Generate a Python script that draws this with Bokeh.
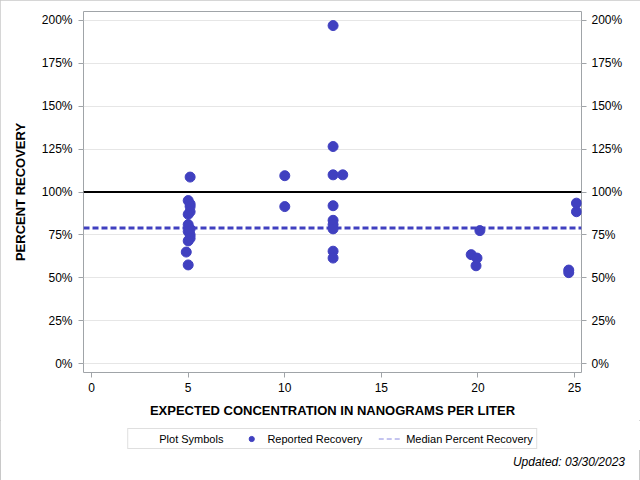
import math
from bokeh.plotting import figure
from bokeh.layouts import column
from bokeh.models import (LinearAxis, FixedTicker, PrintfTickFormatter, Span,
                          Legend, LegendItem, Div, Range1d)
from bokeh.embed import file_html
from bokeh.resources import INLINE

# ---- data ----
expected_conc = [5.1, 5.0, 5.1, 5.1, 5.1, 5.0, 5.0, 5.1, 5.0, 5.1, 5.1, 5.0, 4.9, 5.0,
                 10.0, 10.0,
                 12.5, 12.5, 12.5, 13.0, 12.5, 12.5, 12.5, 12.5, 12.5, 12.5,
                 19.65, 19.95, 19.9, 20.1,
                 25.1, 25.1, 24.7, 24.7]
percent_recovery = [108.7, 95.0, 93.0, 91.5, 88.5, 87.0, 81.0, 78.5, 77.0, 75.0, 73.0, 71.5, 65.0, 57.5,
                    109.5, 91.5,
                    197.0, 126.5, 110.0, 110.0, 92.0, 83.5, 81.0, 78.5, 65.5, 61.5,
                    63.5, 61.5, 57.0, 77.5,
                    93.5, 88.5, 54.5, 53.0]
median_recovery = 79.0
reference_recovery = 100.0
x_tick_values = [0, 5, 10, 15, 20, 25]
y_tick_values = [0, 25, 50, 75, 100, 125, 150, 175, 200]
legend_labels = ["Plot Symbols", "Reported Recovery", "Median Percent Recovery"]
footer_text = "Updated: 03/30/2023"

FONT = "Liberation Sans"
PT_COLOR = "#4040C0"
GRAY = "#a0a4a8"

# ---------------- main plot ----------------
p = figure(width=640, height=420, output_backend="svg", toolbar_location=None,
           x_range=Range1d(-0.42, 25.36), y_range=Range1d(-5.2, 205.2),
           min_border_left=83, min_border_right=59, min_border_top=11,
           min_border_bottom=48)
p.background_fill_color = "white"
p.border_fill_color = "white"
p.outline_line_color = GRAY
p.outline_line_width = 1

p.xaxis.ticker = FixedTicker(ticks=x_tick_values)
p.yaxis.ticker = FixedTicker(ticks=y_tick_values)
p.yaxis.formatter = PrintfTickFormatter(format="%d%%")
p.xaxis.axis_label = "EXPECTED CONCENTRATION IN NANOGRAMS PER LITER"
p.yaxis.axis_label = "PERCENT RECOVERY"

right_axis = LinearAxis(ticker=FixedTicker(ticks=y_tick_values),
                        formatter=PrintfTickFormatter(format="%d%%"))
p.add_layout(right_axis, "right")

for ax in p.axis:
    ax.axis_line_color = None
    ax.major_tick_line_color = GRAY
    ax.major_tick_out = 5
    ax.major_tick_in = 0
    ax.minor_tick_line_color = None
    ax.major_label_text_font = FONT
    ax.major_label_text_font_size = "12px"
    ax.major_label_text_color = "#000000"
    ax.axis_label_text_font = FONT
    ax.axis_label_text_font_size = "13px"
    ax.axis_label_text_font_style = "bold"
    ax.axis_label_text_color = "#000000"
    ax.major_label_standoff = 5
p.yaxis[0].major_label_standoff = 6
p.yaxis[0].axis_label_standoff = 11
p.xaxis[0].axis_label_standoff = 8

p.xgrid.grid_line_color = None
p.ygrid.ticker = FixedTicker(ticks=y_tick_values)
p.ygrid.grid_line_color = "#e6e6e6"

p.add_layout(Span(location=reference_recovery, dimension="width",
                  line_color="black", line_width=2))
p.add_layout(Span(location=median_recovery, dimension="width",
                  line_color=PT_COLOR, line_width=3, line_dash="6 3"))

p.scatter(expected_conc, percent_recovery, size=10, marker="circle",
          fill_color=PT_COLOR, line_color=PT_COLOR)

# ---------------- legend strip ----------------
q = figure(width=640, height=30, output_backend="svg", toolbar_location=None,
           x_range=Range1d(0, 1), y_range=Range1d(0, 1),
           min_border_left=28, min_border_right=0, min_border_top=0,
           min_border_bottom=0)
q.axis.visible = False
q.grid.visible = False
q.outline_line_color = None
q.background_fill_color = "white"
q.border_fill_color = "white"

nan = [math.nan]
leg_blank = q.scatter(nan, nan, size=1, marker="circle", fill_alpha=0, line_alpha=0)
leg_pt = q.scatter(nan, nan, size=7, marker="circle", fill_color=PT_COLOR, line_color=PT_COLOR)
leg_ln = q.line(nan, nan, line_color="#8a8ae0", line_width=1, line_dash="5 3")

legend = Legend(items=[LegendItem(label=legend_labels[0], renderers=[leg_blank]),
                       LegendItem(label=legend_labels[1], renderers=[leg_pt]),
                       LegendItem(label=legend_labels[2], renderers=[leg_ln])],
                orientation="horizontal", location="top_center")
legend.label_text_font = FONT
legend.label_text_font_size = "11px"
legend.label_text_color = "#000000"
legend.border_line_color = "#c0c0c0"
legend.background_fill_color = "white"
legend.padding = 3
legend.margin = 8
legend.spacing = 16
legend.glyph_width = 24
legend.glyph_height = 13
legend.label_standoff = 4
legend.label_height = 13
q.add_layout(legend)

# ---------------- footer ----------------
footer = Div(text=footer_text, width=626, height=26,
             styles={"text-align": "right", "font-family": FONT, "font-style": "italic",
                     "font-size": "12px", "line-height": "14px", "padding-top": "0px",
                     "padding-right": "6px", "color": "#000000"})

layout = column(p, q, footer, spacing=0)
layout.styles = {"outline": "1px solid #c8c8c8", "outline-offset": "-1px"}
open("out.html", "w").write(file_html(layout, INLINE))
